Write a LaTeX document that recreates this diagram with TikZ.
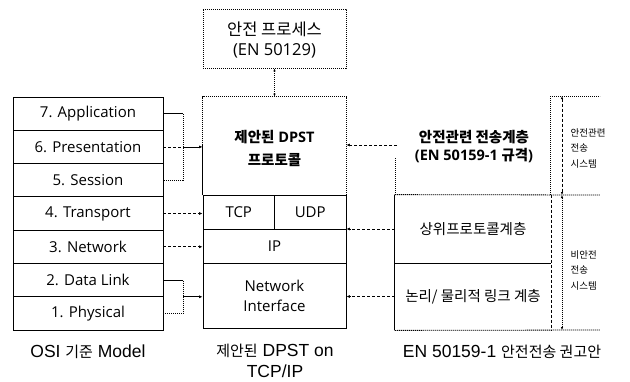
\documentclass[tikz,border=0pt]{standalone}
\usepackage{fontspec}
\setmainfont{Open Sans}
\newfontfamily\kr{Noto Sans CJK KR}
\newfontfamily\capfont{Liberation Sans}
\usetikzlibrary{arrows.meta}

% Korean runs inside Latin text
\newcommand\ko[1]{{\kr #1}}
\newcommand\kocap[1]{{\kr\fontsize{15}{21}\selectfont #1}}

\begin{document}
\begin{tikzpicture}[x=1pt,y=-1pt,
  line width=0.8pt,
  txt/.style={font=\fontsize{15}{20}\selectfont},
  heading/.style={font=\bfseries\fontsize{14.5}{23}\selectfont, align=center},
  osi/.style={draw, minimum width=150pt, minimum height=33.3pt, inner sep=0pt, txt},
  stackbox/.style={minimum width=143pt, inner sep=0pt, txt, align=center},
  halfbox/.style={draw, minimum width=71.5pt, minimum height=34pt, inner sep=0pt, txt},
  tip/.style={-{Latex[length=3.5pt,width=3pt]}},
  twotip/.style={{Latex[length=3pt,width=2.5pt]}-{Latex[length=3pt,width=2.5pt]}},
  dottedline/.style={dash pattern=on 1.2pt off 0.8pt, line width=0.8pt},
  dashline/.style={dash pattern=on 3pt off 2pt, line width=0.8pt},
  side/.style={font=\kr\fontsize{9.5}{15.5}\selectfont, align=left, anchor=west},
  caption/.style={font=\capfont\fontsize{17.5}{21}\selectfont, align=center}
]
\useasboundingbox (0,0) rectangle (630,381);

% OSI reference model
\node[osi] (o7) at (88,113.6) {7. Application};
\node[osi] (o6) at (88,146.9) {6. Presentation};
\node[osi] (o5) at (88,180.2) {5. Session};
\node[osi] (o4) at (88,213.5) {4. Transport};
\node[osi] (o3) at (88,246.8) {3. Network};
\node[osi] (o2) at (88,280.1) {2. Data Link};
\node[osi] (o1) at (88,313.4) {1. Physical};

% Proposed DPST stack on TCP/IP
\node[stackbox, minimum height=59pt, draw, dottedline] (safe) at (274.5,38.5) {};
\node[font=\fontsize{16.5}{20}\selectfont, align=center] (safetxt) at (274.5,40)
  {\ko{안전 프로세스}\\(EN 50129)};
\node[stackbox, minimum height=98pt] (dpst) at (274.5,146) {};
\node[heading] (dpsttxt) at (274.5,148.5) {\ko{제안된} DPST\\\ko{프로토콜}};
\node[halfbox] (tcp) at (238.75,212) {TCP};
\node[halfbox] (udp) at (310.25,212) {UDP};
\node[stackbox, draw, minimum height=34pt] (ip) at (274.5,246) {IP};
\node[stackbox, draw, minimum height=65pt] (ni) at (274.5,295.5) {Network\\Interface};
% outline of the protocol box
\draw[dottedline] (dpst.south west) -- (dpst.north west) -- (dpst.north east) -- (dpst.south east);
\draw (dpst.south west) ++(0,-50) -- (dpst.south west);

\draw[dottedline, twotip] (safe.south) -- (dpst.north);

% OSI layers mapped onto the stack
\coordinate (b7) at (183,113.6);
\coordinate (b5) at (183,180.2);
\coordinate (b6) at (183,146.9);
\draw[dottedline] (o7.east) -- (b7) -- (b5) -- (o5.east);
\draw[dashline] (o6.east) -- (b6);
\draw[tip] (b6) -- (b6 -| dpst.west);
\draw[dashline, tip] (o4.east) -- (o4.east -| tcp.west);
\draw[dashline, tip] (o3.east) -- (o3.east -| ip.west);
\coordinate (b2) at (183,280.1);
\coordinate (b1) at (183,313.4);
\coordinate (b12) at (183,296.8);
\draw[dottedline] (o2.east) -- (b2) -- (b1) -- (o1.east);
\draw[tip] (b12) -- (b12 -| ni.west);

% EN 50159-1 reference architecture
\node[heading, font=\bfseries\fontsize{14.5}{18}\selectfont] (safetx) at (474,147)
  {\ko{안전관련 전송계층}\\(EN 50159-1 \ko{규격})};
\coordinate (ru) at (397,145);
\draw[dashline, tip] (ru) -- (ru -| dpst.east);
\draw[dottedline] (395,158) -- (395,195);
\draw[dottedline] (550,96) -- (550,195);

\node[minimum width=156pt, minimum height=68pt, inner sep=0pt, font=\kr\fontsize{14.5}{18}\selectfont] (upper) at (473,229) {상위프로토콜계층};
\node[minimum width=156pt, minimum height=67pt, inner sep=0pt, font=\kr\fontsize{14.5}{18}\selectfont] (lower) at (473,296.5) {논리/ 물리적 링크 계층};
\draw (upper.north west) -- (lower.south west);
\draw[dashline] (upper.north east) -- (lower.south east);
\draw (upper.south west) -- (upper.south east);
\draw[dottedline] (upper.north west) -- (600,195);
\draw[dottedline] (lower.south west) -- (600,330);
\draw[dottedline] (550,96) -- (600,96);

\draw[dashline, tip] (upper.west) -- (upper.west -| dpst.east);
\draw[dashline, tip] (lower.west) -- (lower.west -| ni.east);

% system extents
\draw[dashline, twotip] (562,96) -- (562,195);
\draw[dottedline, twotip] (562,195) -- (562,330);
\node[side] (safesys) at (567,148) {안전관련\\전송\\시스템};
\node[side] (nonsafe) at (567,270) {비안전\\전송\\시스템};

% captions
\node[caption] (c1) at (88,352) {OSI \kocap{기준} Model};
\node[caption] (c2) at (275,361) {\kocap{제안된} DPST on\\TCP/IP};
\node[caption] (c3) at (502,352) {EN 50159-1 \kocap{안전전송 권고안}};
\end{tikzpicture}
\end{document}
